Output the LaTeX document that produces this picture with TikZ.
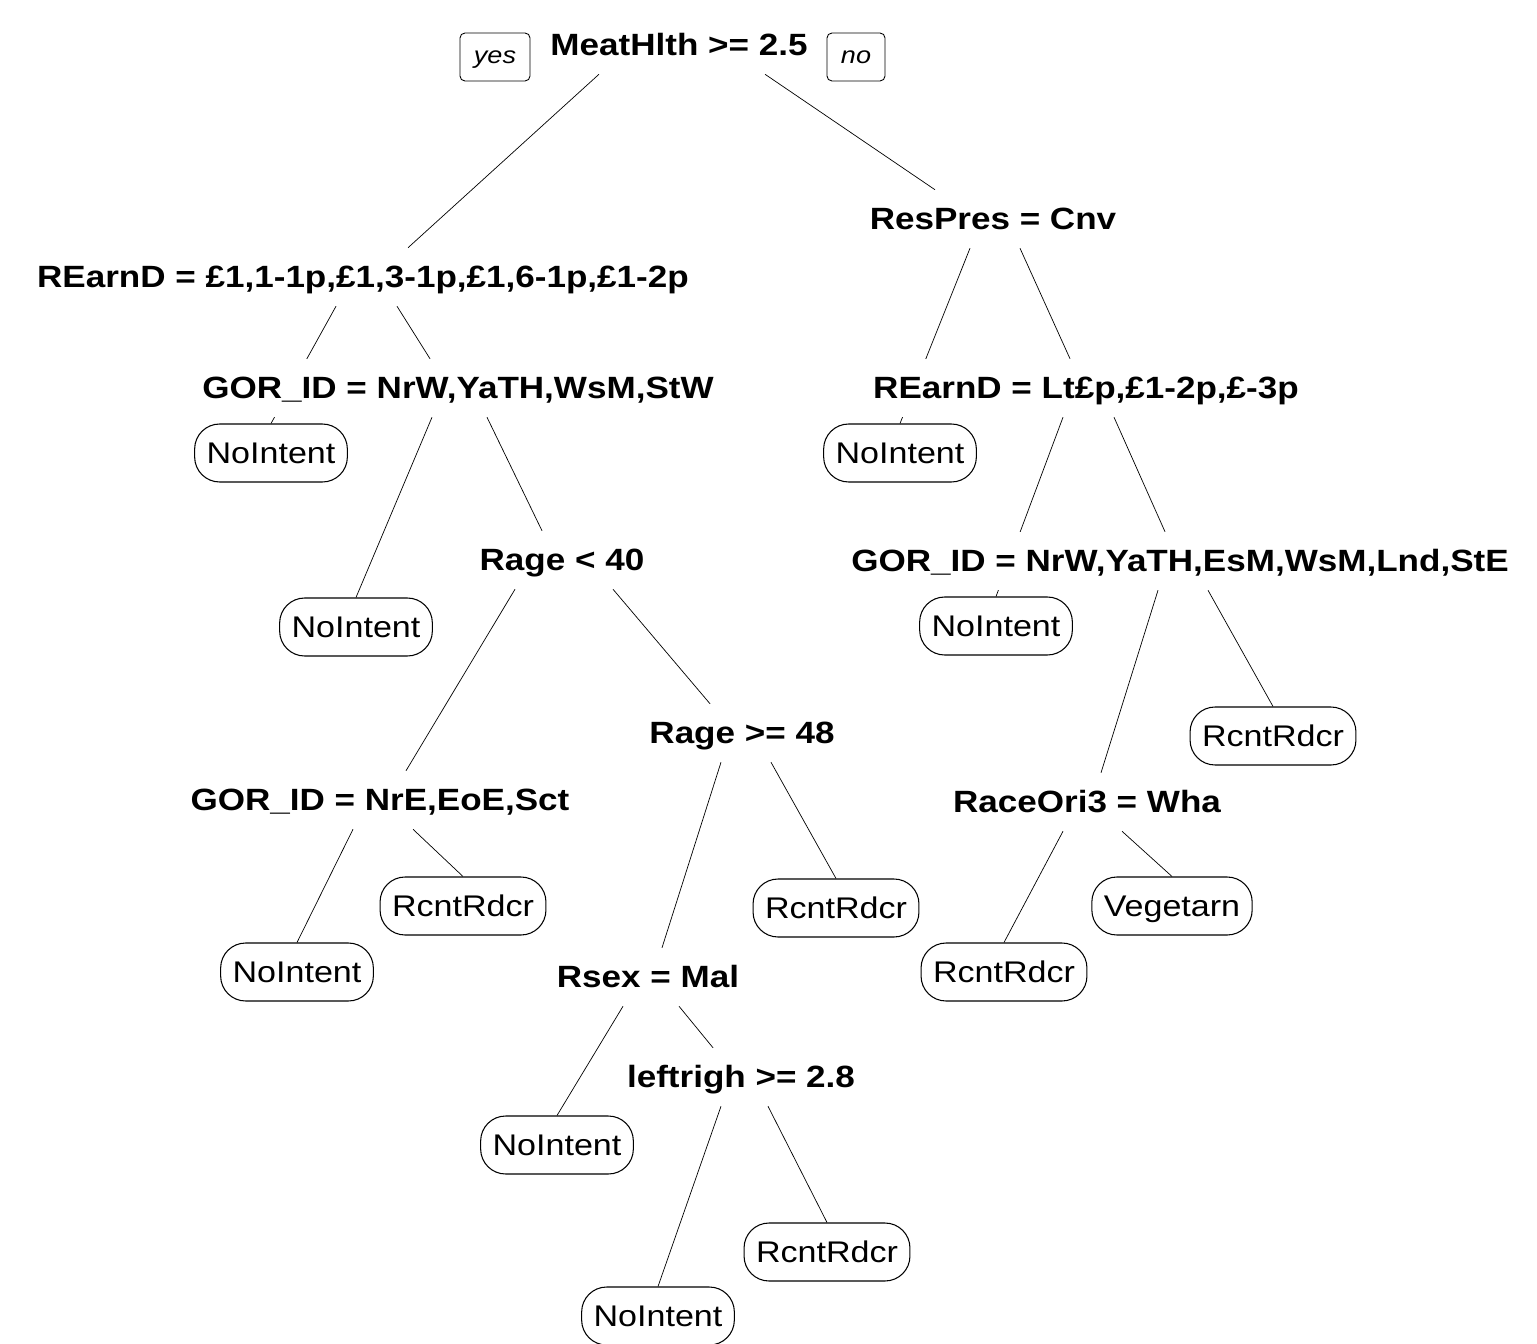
\documentclass[tikz,border=0pt]{standalone}
\usepackage{fontspec}
\setmainfont{Liberation Sans}[FakeStretch=1.14]
\usetikzlibrary{backgrounds}

\tikzset{
  split/.style={fill=white, inner xsep=2pt, inner ysep=10.2pt, text height=12.5pt, text depth=0pt,
    font=\fontsize{17.5}{20}\selectfont\bfseries},
  leaf/.style={draw, line width=0.6pt, rounded corners=0.5cm, minimum height=1.16cm, inner xsep=0.24cm,
    text height=12.2pt, text depth=0pt, font=\fontsize{17}{20}\selectfont},
  tag/.style={draw, line width=0.5pt, rounded corners=0.1cm, minimum height=0.96cm, inner xsep=0.28cm,
    text height=7pt, text depth=0pt, font=\fontsize{13.5}{16}\selectfont\itshape},
  branch/.style={line width=0.6pt}
}

\begin{document}
\begin{tikzpicture}[x=0.02cm, y=-0.02cm]
    \useasboundingbox (0,0) rectangle (1537,1344);

    \node[split] (root) at (679,45) {MeatHlth >= 2.5};
    \node[tag] (yes) at (495,57) {yes};
    \node[tag] (no) at (856,57) {no};

    \node[split] (earnL) at (363,277) {REarnD = £1,1-1p,£1,3-1p,£1,6-1p,£1-2p};
    \node[split] (pres) at (993,219) {ResPres = Cnv};
    \node[split] (gorA) at (458,388) {GOR\_ID = NrW,YaTH,WsM,StW};
    \node[split] (earnR) at (1086,388) {REarnD = Lt£p,£1-2p,£-3p};
    \node[split] (ageA) at (562,560) {Rage < 40};
    \node[split] (gorR) at (1180,561) {GOR\_ID = NrW,YaTH,EsM,WsM,Lnd,StE};
    \node[split] (ageB) at (742,733) {Rage >= 48};
    \node[split] (gorC) at (380,800) {GOR\_ID = NrE,EoE,Sct};
    \node[split] (raceN) at (1087,802) {RaceOri3 = Wha};
    \node[split] (rsex) at (648,977) {Rsex = Mal};
    \node[split] (leftr) at (741,1077) {leftrigh >= 2.8};

    \node[leaf] (leafA) at (271,453) {NoIntent};
    \node[leaf] (leafF) at (900,453) {NoIntent};
    \node[leaf] (leafB) at (356,627) {NoIntent};
    \node[leaf] (leafG) at (996,626) {NoIntent};
    \node[leaf] (leafH) at (1273,736) {RcntRdcr};
    \node[leaf] (leafD) at (463,906) {RcntRdcr};
    \node[leaf] (leafE) at (836,908) {RcntRdcr};
    \node[leaf] (leafJ) at (1172,906) {Vegetarn};
    \node[leaf] (leafC) at (297,972) {NoIntent};
    \node[leaf] (leafI) at (1004,972) {RcntRdcr};
    \node[leaf] (leafK) at (557,1145) {NoIntent};
    \node[leaf] (leafL) at (827,1252) {RcntRdcr};
    \node[leaf] (leafM) at (658,1316) {NoIntent};

    \begin{scope}[on background layer, branch]
    \draw ([shift={(-80,0)}]root.south) -- ([shift={(45,0)}]earnL.north);
    \draw ([shift={(86,0)}]root.south) -- ([shift={(-58,0)}]pres.north);
    \draw ([shift={(-27,0)}]earnL.south) -- (leafA.north);
    \draw ([shift={(34,0)}]earnL.south) -- ([shift={(-28,0)}]gorA.north);
    \draw ([shift={(-26,0)}]gorA.south) -- (leafB.north);
    \draw ([shift={(29,0)}]gorA.south) -- ([shift={(-20,0)}]ageA.north);
    \draw ([shift={(-47,0)}]ageA.south) -- ([shift={(26,0)}]gorC.north);
    \draw ([shift={(51,0)}]ageA.south) -- ([shift={(-32,0)}]ageB.north);
    \draw ([shift={(-27,0)}]gorC.south) -- (leafC.north);
    \draw ([shift={(33,0)}]gorC.south) -- (leafD.north);
    \draw ([shift={(-21,0)}]ageB.south) -- ([shift={(14,0)}]rsex.north);
    \draw ([shift={(29,0)}]ageB.south) -- (leafE.north);
    \draw ([shift={(-25,0)}]rsex.south) -- (leafK.north);
    \draw ([shift={(31,0)}]rsex.south) -- ([shift={(-28,0)}]leftr.north);
    \draw ([shift={(-20,0)}]leftr.south) -- (leafM.north);
    \draw ([shift={(27,0)}]leftr.south) -- (leafL.north);
    \draw ([shift={(-23,0)}]pres.south) -- (leafF.north);
    \draw ([shift={(27,0)}]pres.south) -- ([shift={(-16,0)}]earnR.north);
    \draw ([shift={(-23,0)}]earnR.south) -- (leafG.north);
    \draw ([shift={(28,0)}]earnR.south) -- ([shift={(-15,0)}]gorR.north);
    \draw ([shift={(28,0)}]gorR.south) -- (leafH.north);
    \draw ([shift={(-22,0)}]gorR.south) -- ([shift={(14,0)}]raceN.north);
    \draw ([shift={(-24,0)}]raceN.south) -- (leafI.north);
    \draw ([shift={(35,0)}]raceN.south) -- (leafJ.north);
    \end{scope}
\end{tikzpicture}
\end{document}
